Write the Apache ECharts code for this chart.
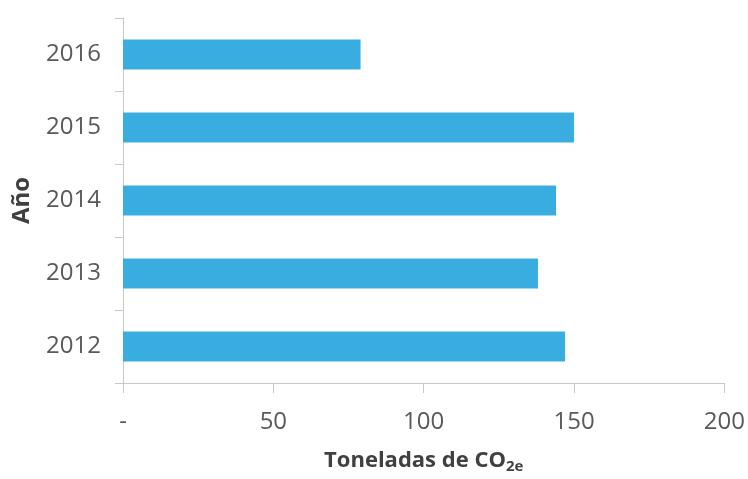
<!DOCTYPE html>
<html>
<head>
<meta charset="utf-8">
<script src="https://cdn.jsdelivr.net/npm/echarts@6/dist/echarts.min.js"></script>
<style>html,body{margin:0;padding:0;background:#fff;}#c{width:748px;height:479px;}</style>
</head>
<body>
<div id="c"></div>
<script>
const years = ['2012', '2013', '2014', '2015', '2016'];
const toneladas = [147, 138, 144, 150, 79];
const xTicks = [0, 50, 100, 150, 200];

const chart = echarts.init(document.getElementById('c'), null, {renderer: 'canvas'});
const fontFam = '"Open Sans", "Liberation Sans", sans-serif';
chart.setOption({
  animation: false,
  backgroundColor: '#ffffff',
  grid: {left: 123, right: 21, top: 18, bottom: 89, containLabel: false},
  xAxis: {
    type: 'value',
    min: xTicks[0],
    max: xTicks[xTicks.length - 1],
    interval: 50,
    name: '{a|Toneladas de CO}{b|2e}',
    nameLocation: 'middle',
    nameGap: 64,
    nameTextStyle: {
      rich: {
        a: {fontFamily: fontFam, fontWeight: 'bold', fontSize: 22, color: '#404040'},
        b: {fontFamily: fontFam, fontWeight: 'bold', fontSize: 15, color: '#404040', verticalAlign: 'bottom', padding: [12, 0, 0, 0]}
      }
    },
    axisLine: {show: true, lineStyle: {color: '#c8c8c8', width: 1}},
    axisTick: {show: true, length: 10, lineStyle: {color: '#c8c8c8'}},
    splitLine: {show: false},
    axisLabel: {
      margin: 27,
      fontFamily: fontFam,
      fontSize: 24,
      color: '#595959',
      formatter: v => (v === 0 ? '-' : String(v))
    }
  },
  yAxis: {
    type: 'category',
    data: years,
    name: 'Año',
    nameLocation: 'middle',
    nameGap: 89,
    nameRotate: 90,
    nameTextStyle: {fontFamily: fontFam, fontWeight: 'bold', fontSize: 24, color: '#404040'},
    axisLine: {show: true, lineStyle: {color: '#c8c8c8', width: 1}},
    axisTick: {show: true, length: 8, lineStyle: {color: '#c8c8c8'}},
    axisLabel: {margin: 22, fontFamily: fontFam, fontSize: 24, color: '#595959'}
  },
  series: [{
    type: 'bar',
    data: toneladas,
    barCategoryGap: '59%',
    itemStyle: {color: '#3aade0'}
  }]
});
</script>
</body>
</html>
